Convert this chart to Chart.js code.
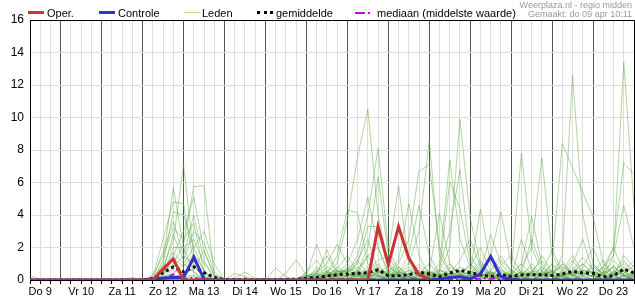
<!DOCTYPE html>
<html><head><meta charset="utf-8">
<script src="https://cdn.jsdelivr.net/npm/chart.js@4/dist/chart.umd.min.js"></script>
<style>
html,body{margin:0;padding:0;background:#fff;}
#wrap{position:relative;width:635px;height:300px;font-family:"Liberation Sans",Arial,sans-serif;}
canvas{position:absolute;left:0;top:0;}
.lg{position:absolute;font-size:11px;line-height:12px;top:7px;color:#000;white-space:nowrap;}
.sw{position:absolute;}
.wm{position:absolute;right:3px;font-size:9px;line-height:9px;color:#999;white-space:nowrap;}
</style></head>
<body><div id="wrap"><canvas id="c" width="635" height="300"></canvas>
<div class="sw" style="left:28px;top:11px;width:16px;height:3px;background:#cc3333"></div><div class="lg" style="left:47px">Oper.</div>
<div class="sw" style="left:99px;top:11px;width:16px;height:3px;background:#3333cc"></div><div class="lg" style="left:118px">Controle</div>
<div class="sw" style="left:184px;top:12px;width:16px;height:1px;background:#b5d9a5"></div><div class="lg" style="left:202px">Leden</div>
<div class="sw" style="left:257px;top:11px;width:16px;height:0;border-top:3px dotted #000"></div><div class="lg" style="left:276px">gemiddelde</div>
<div class="sw" style="left:355px;top:12px;width:10px;height:2px;background:#cc00ee"></div><div class="sw" style="left:368px;top:12px;width:2px;height:2px;background:#cc00ee"></div><div class="lg" style="left:377px">mediaan (middelste waarde)</div>
<div class="wm" style="top:1px">Weerplaza.nl - regio midden</div>
<div class="wm" style="top:10px">Gemaakt: do 09 apr 10:11</div>
</div>
<script>
// 6-hourly steps from Do 9 06:00 to Vr 24 00:00 (60 steps)
const dayNames = ['Do 9','Vr 10','Za 11','Zo 12','Ma 13','Di 14','Wo 15','Do 16','Vr 17','Za 18','Zo 19','Ma 20','Di 21','Wo 22','Do 23','Vr 24'];
const yTicks = [0,2,4,6,8,10,12,14,16];

const oper = [0,0,0, 0,0,0,0, 0,0,0,0, 0,0,0.67,1.29, 0,0,0,0, 0,0,0,0, 0,0,0,0, 0,0,0,0, 0,0,0,3.29, 0.94,3.29,1.35,0.33,
  0.05,null,null,null, null,null,null,null, null,null,null,null, null,null,null,null, null,null,null,null, null];
const controle = [0,0,0, 0,0,0,0, 0,0,0,0, 0,0.05,0.12,0.15, 0.15,1.41,0.05,0, 0,0,0,0, 0,0,0,0, 0,0,0,0, 0,0,0,0, 0,0,0,0,
  0,0.05,0.15,0.2, 0.07,0.37,1.45,0.2, 0.05,0,0,0, 0,0,0,0, 0,0,0,0, 0];
const gemiddelde = [0,0,0, 0,0,0,0, 0,0,0,0.01, 0,0.1,0.45,0.8, 0.5,0.8,0.45,0.15, 0.03,0.03,0.04,0.02, 0.02,0.03,0.03,0.05,
  0.1,0.16,0.25,0.32, 0.37,0.41,0.45,0.63, 0.26,0.26,0.32,0.49, 0.37,0.2,0.43,0.6, 0.45,0.32,0.22,0.32,
  0.22,0.32,0.32,0.32, 0.28,0.37,0.53,0.43, 0.41,0.2,0.26,0.67, 0.43];
const mediaan = [0,0,0, 0,0,0,0, 0,0,0,0, 0,0,0,0.35, 0.05,0.15,0,0, 0,0,0,0, 0,0,0,0, 0,0,0,0, 0,0,0,0, 0,0,0,0,
  0,0,0,0, 0,0.1,0.1,0.05, 0,0,0,0, 0,0,0,0, 0,0,0,0, 0];

const lid01 = [0.3,0,0, 0,0,0,0, 0,0,0,0, 0,0,1.2,5.7, 2.0,0.5,0,0, 0,0,0,0, 0,0,0,0, 0,0.2,0.5,1.0, 3.7,7.6,10.5,4.0, 1.0,0.3,0,0.2, 0.5,0.2,0,0.3, 1.0,0.4,0,0, 0,0.3,0.8,0.2, 0,0.5,1.2,0.4, 0.2,0,0.5,1.0, 0.6];
const lid02 = [0,0,0, 0,0,0,0, 0,0,0,0.15, 0,0,0.8,2.4, 7.1,1.5,0.2,0, 0,0,0,0, 0,0,0,0, 0,0,0.3,0.5, 0.5,1.5,4.0,8.1, 2.0,0.5,0.2,0, 0,0.4,1.0,0.3, 0,0,0.5,1.2, 0.6,0.2,0,0, 0.3,1.0,0.4,0, 0,0.3,0.8,0.3, 0];
const lid03 = [0,0,0, 0,0,0,0, 0,0,0,0, 0,0,0.5,1.0, 2.2,5.75,5.8,0.3, 0,0,0,0, 0,0,0,0, 0.2,0.6,0.2,0, 0,0.5,2.0,6.35, 1.5,0.3,0,0, 0,0,0.4,1.2, 2.5,0.8,0.2,0, 0,0,0.4,1.5, 0.5,0.2,0,0.3, 0.8,0.4,0,0, 0.3];
const lid04 = [0,0,0, 0,0,0,0, 0,0,0,0, 0,0.2,2.5,4.8, 4.7,1.0,0,0, 0,0,0,0, 0,0,0,0, 0,0.3,0.8,0.4, 1.0,2.5,5.1,2.0, 0.4,0,0.3,0.8, 0.3,0,0,0.5, 0.8,2.0,0.5,0, 0,0.2,0.6,0.3, 1.0,0.3,0,0, 0,0.4,1.2,0.5, 0.2];
const lid05 = [0,0,0, 0,0,0,0, 0,0,0,0, 0,0,1.0,4.2, 4.0,2.0,0.5,0, 0,0,0,0, 0,0,0,0, 0.5,1.2,0.4,1.5, 4.3,4.15,1.0,0.3, 0,0.5,0.2,0, 0.2,0.6,0.3,0, 0,0.3,1.5,0.6, 0.2,0,0,0.5, 1.8,0.6,0.2,0, 0,0,0.3,1.5, 0.8];
const lid06 = [0,0,0, 0,0,0,0, 0,0,0,0, 0,0,0.5,1.5, 3.0,5.1,1.8,0.2, 0,0,0,0, 0,0,0,0, 0,0.4,0,0.6, 0.5,1.0,3.3,3.3, 1.0,0.2,0,0.4, 1.0,0.3,0,0, 0.3,1.0,0.4,0, 0,0.5,2.5,0.8, 0.2,0,0.4,1.0, 0.3,0,0,0.6, 1.2];
const lid07 = [0,0,0, 0,0,0,0, 0,0,0,0, 0,0,1.8,3.6, 1.5,4.0,1.2,0, 0,0,0,0, 0,0,0,0, 0.3,0,0.2,0.8, 0.4,0.2,0.6,1.2, 1.5,5.8,1.0,0.3, 0,0.2,0.8,0.4, 0,0,0.3,0.9, 1.5,0.4,0,0, 0,0.6,1.5,0.5, 0.2,0.8,0.3,0, 0];
const lid08 = [0,0,0, 0,0,0,0, 0,0,0,0, 0,0.3,1.5,3.2, 2.5,3.5,0.5,0, 0,0,0,0, 0,0,0,0, 0,0,0.5,0.3, 0.8,0.3,0.1,0.5, 0.5,1.0,2.5,6.7, 7.1,2.0,0.5,0, 0.4,1.2,0.3,0, 0,0,0.5,1.2, 0.4,0,0.2,0.8, 2.0,0.5,0,0.3, 0.5];
const lid09 = [0,0,0, 0,0,0,0, 0,0,0,0, 0,0,0.6,2.8, 1.2,3.0,2.3,0.5, 0,0,0,0, 0,0,0,0, 0.2,0.5,1.5,0.4, 0,0.6,1.5,0.4, 0,0.5,1.0,3.0, 8.6,1.5,0.5,0, 0,0.5,2.8,1.0, 0.3,0,0,0.4, 0,0.3,1.0,2.5, 0.5,0,0.2,0.6, 0];
const lid10 = [0,0,0, 0,0,0,0, 0,0,0,0, 0,0,0.3,2.0, 2.0,2.5,1.0,0.3, 0,0,0,0, 0,0,0,0, 0,0.8,0.3,0, 0.2,1.2,2.5,0.6, 0.3,0.5,1.5,4.6, 1.5,0.4,0,0.2, 0.6,0.2,0,0.5, 0.2,2.5,0.6,0, 0,0.2,0.5,0.2, 1.0,0.3,0,0, 0.4];
const lid11 = [0,0,0, 0,0,0,0, 0,0,0,0, 0,0,0.4,1.7, 1.0,2.0,3.0,1.0, 0,0,0,0, 0,0,0,0, 0.4,0.2,0.6,0.2, 0,0.4,1.5,2.0, 0.5,1.2,4.7,1.5, 0.3,0,0.2,0.6, 0.2,0,0.4,0.2, 0,0.3,1.0,0.3, 0.6,1.2,0.3,0, 0,0.2,0.9,0.3, 0];
const lid12 = [0,0,0, 0,0,0,0, 0,0,0,0, 0,0,0.2,1.4, 0.8,1.6,0.6,0, 0,0,0,0, 0,0,0,0, 0.3,2.2,0.5,0.2, 0,0.3,0.8,0.2, 0.2,0,0.4,1.0, 0.5,4.1,1.0,0.3, 0,0.2,0.6,1.5, 0.5,0,0.2,0.8, 0.3,0,0,0.6, 0.4,1.2,0.3,0, 0.2];
const lid13 = [0,0,0, 0,0,0,0, 0,0,0,0, 0,0,0.9,1.2, 0.4,1.2,0.3,0, 0,0,0,0, 0,0,0,0, 0,0.5,1.0,2.2, 1.0,0.3,0.2,0.5, 0.8,0.3,0,0.2, 0.3,1.0,7.4,2.5, 0.8,0.3,0,0, 0.4,1.0,0.3,0, 0,0.4,0.8,0.3, 0,0.5,0.3,0.8, 0.3];
const lid14 = [0,0,0, 0,0,0,0, 0,0,0,0, 0,0,0.1,0.8, 1.5,0.9,0.2,0, 0,0,0,0, 0,0,0,0, 0,0.3,1.85,0.5, 0.6,1.2,0.4,0.8, 0.3,0.6,0.2,0, 0,0.5,6.05,4.4, 1.0,0.3,0.2,0, 0,0.6,0.3,0.5, 0.2,0,0.6,1.4, 0.6,0.2,0,0.4, 0.9];
const lid15 = [0,0,0, 0,0,0,0, 0,0,0,0, 0,0,0,0.6, 0.3,0.7,1.8,0.3, 0,0,0,0, 0,0,0,0, 0,0,0.2,0.7, 1.5,0.5,0.3,0, 0.2,0.8,0.3,0, 0,0.5,2.0,9.9, 3.8,1.0,0.3,0, 0.2,0.5,0,0.3, 0.5,0.2,0,0, 0.3,0,0.6,0.2, 0];
const lid16 = [0,0,0, 0,0,0,0, 0,0,0,0, 0,0,0.2,0.4, 1.0,0.5,0,0, 0,0,0,0, 0,0,0,0, 0.2,0.4,0,0.3, 0.7,0,0.5,1.0, 0.2,0.4,0.8,0.3, 0.2,0.8,3.0,6.8, 1.5,0.5,0,0.2, 0.6,0.2,0,0, 0.4,1.0,0.3,0, 0,0,0.4,1.2, 0.5];
const lid17 = [0,0,0, 0,0,0,0, 0,0,0,0, 0,0,0,0.3, 0.2,0.3,0.1,0, 0,0.4,0.2,0, 0,0,0,0, 0,0,0.3,0.2, 0.5,0.8,0.2,0, 0,0.3,0.6,0.2, 0,0.3,0.4,0.8, 0.5,4.35,1.0,0.3, 0,0.2,0.5,0.2, 0,0.3,0.5,1.0, 0.4,0,0,0.3, 0];
const lid18 = [0,0,0, 0,0,0,0, 0,0,0,0, 0,0,0,0, 0.1,0.2,0,0, 0,0.1,0.5,0.1, 0,0,0,0, 0.3,0,0.4,0.6, 0.2,0.5,0.3,0.6, 0.3,0,0.2,0.5, 0.2,0,0.3,0.5, 0,0.5,1.5,4.2, 1.0,0.3,0,0.2, 0.6,0.2,0,0.4, 0.2,0.6,0.2,0, 0];
const lid19 = [0,0,0, 0,0,0,0, 0,0,0,0, 0,0,0,0.2, 0,0,0,0, 0,0,0,0, 0,0.74,0.2,0, 0,0.2,0.3,0, 0.3,0.6,0.2,0.4, 0.6,0.2,0,0.3, 0.4,0.2,0,0.3, 0.2,0.6,0.3,0, 0.5,7.8,2.0,0.5, 0.3,0.2,0.4,0, 0,0.4,0.8,0.2, 0.3];
const lid20 = [0,0,0, 0,0,0,0, 0,0,0,0, 0,0,0,0, 0,0,0,0, 0,0,0,0, 0,0,0.4,1.25, 0.3,0,0.2,0.5, 0.4,0.2,0.6,0.3, 0,0.5,0.3,0.6, 0.2,0.4,0.2,0, 0.3,0,0.4,0.6, 0.3,1.0,3.9,1.0, 0.2,0,0.3,0.6, 0.4,0.8,2.0,0.5, 0.2];
const lid21 = [0,0,0, 0,0,0,0, 0,0,0,0, 0,0,0,0, 0,0,0,0, 0,0,0,0, 0,0,0,0, 0,0.4,0.2,0.3, 0.6,0.3,0,0.2, 0.4,0.8,0.2,0, 0.3,0.6,0.4,0.2, 0,0.4,0.2,0.8, 0,0.8,2.0,7.5, 1.5,0.4,0,0.2, 0.3,0,0.5,0.4, 0];
const lid22 = [0,0,0, 0,0,0,0, 0,0,0,0, 0,0,0,0, 0,0,0,0, 0,0,0,0, 0,0,0,0, 0.2,0,0.3,0.1, 0,0.4,0.2,0.5, 0.2,0.3,0,0.4, 0.5,0.3,0.2,0, 0.4,0.2,0.5,0.3, 0,0.3,0.4,0.2, 1.0,8.4,6.9,5.4, 3.9,1.0,0.3,0, 0.2];
const lid23 = [0,0,0, 0,0,0,0, 0,0,0,0, 0,0,0,0, 0,0,0,0, 0,0,0,0, 0,0,0,0, 0,0.1,0.2,0.4, 0.2,0,0.4,0.2, 0,0.2,0.6,0.3, 0.6,0.2,0,0.4, 0.2,0.8,0.3,0, 0.2,0,0.5,0.6, 0.3,1.5,12.6,4.0, 1.0,0.3,0,0.2, 0.4];
const lid24 = [0,0,0, 0,0,0,0, 0,0,0,0, 0,0,0,0, 0,0,0,0, 0,0,0,0, 0,0,0,0, 0.1,0,0.4,0.2, 0.3,0.2,0.1,0.3, 0.5,0,0.2,0.1, 0,0.3,0.6,0.2, 0,0.3,0.5,0.2, 0.4,0.2,0,0.3, 0.2,0.4,0.3,0.6, 0.5,0.3,1.5,13.4, 4.5];
const lid25 = [0,0,0, 0,0,0,0, 0,0,0,0, 0,0,0,0, 0,0,0,0, 0,0,0,0, 0,0,0,0, 0,0.2,0,0.3, 0.2,0.4,0.1,0, 0.3,0.2,0.4,0, 0.2,0,0.3,0.5, 0.3,0.2,0,0.4, 0.2,0.5,0.2,0, 0,0.3,0.6,0.2, 0,0.5,2.0,7.2, 6.5];
const lid26 = [0,0,0, 0,0,0,0, 0,0,0,0, 0,0,0,0, 0,0,0,0, 0,0,0,0, 0,0,0,0, 0.2,0.1,0,0.2, 0,0.2,0.3,0.2, 0.2,0.4,0.1,0.3, 0,0.2,0.4,0.3, 0.5,0.3,0.2,0, 0.3,0,0.3,0.4, 0.5,0.8,0.3,0.5, 0.2,0.8,1.5,4.6, 2.0];

const leden = [lid01,lid02,lid03,lid04,lid05,lid06,lid07,lid08,lid09,lid10,lid11,lid12,lid13,
  lid14,lid15,lid16,lid17,lid18,lid19,lid20,lid21,lid22,lid23,lid24,lid25,lid26];

// build category labels (one per 6 h step) from the day names
const steps = [], tickText = [], hourOf = [];
for (let i = 0; i < oper.length; i++) {
  const h = 6 + 6 * i, d = Math.floor(h / 24), hr = h % 24;
  steps.push(dayNames[d] + ' ' + String(hr).padStart(2, '0') + ':00');
  tickText.push(hr === 12 ? dayNames[d] : '');
  hourOf.push(hr);
}

const base = {pointRadius: 0, pointHoverRadius: 0, tension: 0, fill: false, spanGaps: false};
const datasets = [
  Object.assign({label: 'Oper.', data: oper, borderColor: '#cc3333', borderWidth: 3}, base),
  Object.assign({label: 'Controle', data: controle, borderColor: '#3333cc', borderWidth: 3}, base),
  Object.assign({label: 'mediaan (middelste waarde)', data: mediaan, borderColor: '#cc00ee', borderWidth: 2, borderDash: [6,3,2,3]}, base),
  Object.assign({label: 'gemiddelde', data: gemiddelde, borderColor: '#111', borderWidth: 3, borderDash: [3,3]}, base)
];
leden.forEach((m, k) => datasets.push(Object.assign({label: 'Leden ' + (k + 1), data: m, borderColor: 'rgba(80,165,50,0.45)', borderWidth: 1}, base)));

const frame = {
  id: 'frame',
  afterDraw(chart) {
    const a = chart.chartArea, ctx = chart.ctx;
    ctx.save();
    ctx.strokeStyle = '#000'; ctx.lineWidth = 1;
    ctx.beginPath();
    ctx.moveTo(a.left, a.top + 0.5); ctx.lineTo(a.right + 1, a.top + 0.5);
    ctx.moveTo(a.right + 0.5, a.top); ctx.lineTo(a.right + 0.5, a.bottom);
    ctx.stroke();
    ctx.restore();
  }
};

new Chart(document.getElementById('c'), {
  type: 'line',
  data: {labels: steps, datasets},
  plugins: [frame],
  options: {
    responsive: false, animation: false, devicePixelRatio: 1, events: [],
    layout: {padding: {top: 20, right: 1, bottom: 0, left: 0}},
    plugins: {legend: {display: false}, tooltip: {enabled: false}},
    scales: {
      x: {
        type: 'category', offset: false,
        afterFit: s => { s.height = 20; },
        grid: {offset: false, lineWidth: 1, tickLength: 4, tickColor: '#000',
          color: c => (c.index !== undefined && hourOf[c.index] === 0) ? '#555' : '#dddddd'},
        border: {color: '#000', width: 1},
        ticks: {autoSkip: false, maxRotation: 0, minRotation: 0, padding: 1, color: '#000',
          font: {family: '"Liberation Sans", Arial, sans-serif', size: 11},
          callback: (v, i) => tickText[i]}
      },
      y: {
        min: 0, max: 16,
        afterFit: s => { s.width = 30; },
        afterBuildTicks: s => { s.ticks = yTicks.map(v => ({value: v})); },
        grid: {color: '#dddddd', lineWidth: 1, drawTicks: false},
        border: {color: '#000', width: 1},
        ticks: {padding: 6, color: '#000', font: {family: '"Liberation Sans", Arial, sans-serif', size: 12}}
      }
    }
  }
});
</script>
</body></html>
